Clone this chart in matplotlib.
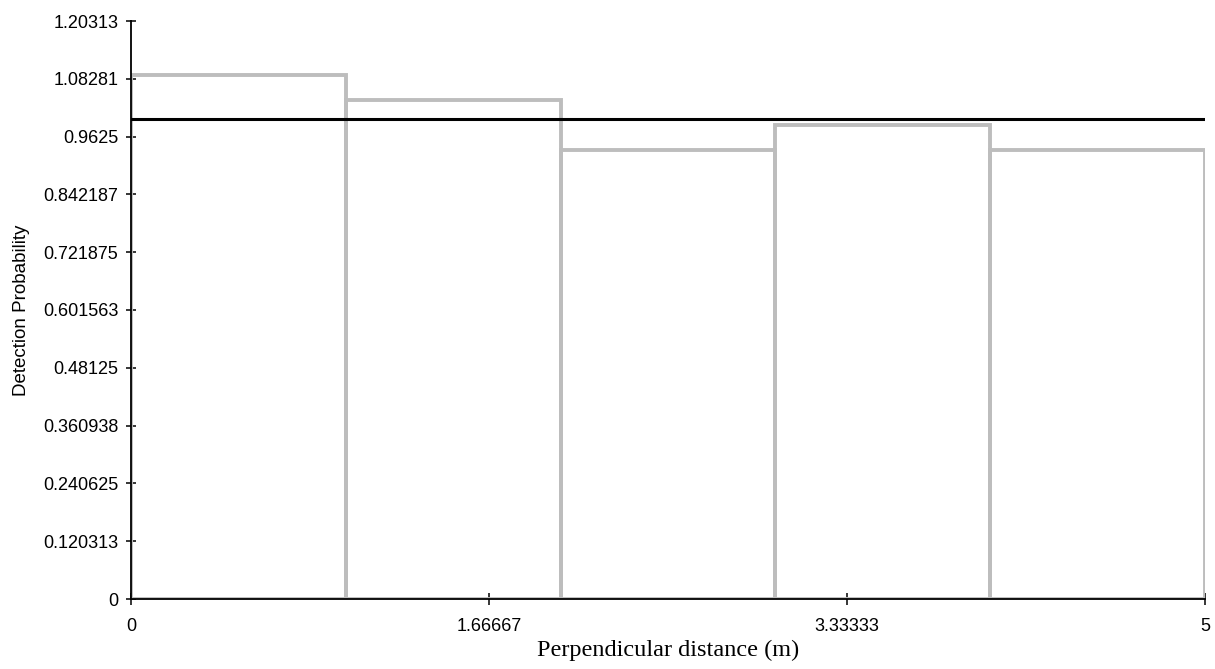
import matplotlib
matplotlib.use("Agg")
import matplotlib.pyplot as plt

# Data
bin_edges = [0, 1, 2, 3, 4, 5]
bin_heights = [1.0907, 1.0387, 0.9346, 0.9867, 0.9346]
fit_x = [0, 5]
fit_y = [1.0, 1.0]
y_ticks = [0, 0.1203125, 0.240625, 0.3609375, 0.48125, 0.6015625,
           0.721875, 0.8421875, 0.9625, 1.0828125, 1.203125]
y_tick_labels = ["0", "0.120313", "0.240625", "0.360938", "0.48125", "0.601563",
                 "0.721875", "0.842187", "0.9625", "1.08281", "1.20313"]
x_ticks = [0, 1.66667, 3.33333, 5]
x_tick_labels = ["0", "1.66667", "3.33333", "5"]

fig = plt.figure(figsize=(12.15, 6.69), dpi=100)
ax = fig.add_axes([131/1215, 1 - 599/669, (1205-131)/1215, (599-21)/669])

ax.hist(bin_edges[:-1], bins=bin_edges, weights=bin_heights, histtype='bar',
        facecolor='none', edgecolor='#bdbdbd', linewidth=2.8, zorder=2)
ax.plot(fit_x, fit_y, color='black', linewidth=2.2, zorder=3)

ax.set_xlim(0, 5)
ax.set_ylim(0, 1.203125)
for s in ['top', 'right']:
    ax.spines[s].set_visible(False)
for s in ['left', 'bottom']:
    ax.spines[s].set_linewidth(1.3)
    ax.spines[s].set_zorder(4)

ax.set_yticks(y_ticks)
ax.set_yticklabels(y_tick_labels, fontfamily='Liberation Sans', fontsize=13)
ax.set_xticks(x_ticks)
ax.set_xticklabels(x_tick_labels, fontfamily='Liberation Sans', fontsize=13)
ax.tick_params(axis='both', direction='inout', width=1.1, colors='black')
ax.tick_params(axis='y', length=7, pad=5.5)
ax.tick_params(axis='x', length=9, pad=9)

ax.set_xlabel("Perpendicular distance (m)", fontfamily='Liberation Serif', fontsize=17.5, labelpad=4)
ax.set_ylabel("Detection Probability", fontfamily='Liberation Sans', fontsize=13.5, labelpad=9.5)

fig.savefig("out.png", dpi=100, facecolor='white')
